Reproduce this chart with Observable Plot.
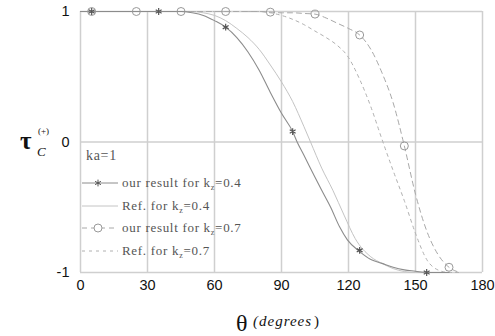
<!DOCTYPE html>
<html><head><meta charset="utf-8">
<script src="https://cdn.jsdelivr.net/npm/d3@7"></script>
<script src="https://cdn.jsdelivr.net/npm/@observablehq/plot@0.6"></script>
<style>body{margin:0;background:#fff}</style>
</head><body><div id="chart"></div>
<script>
// θ (degrees) and τ values
const ourTheta04 = [0,5,10,20,30,35,40,45,50,55,60,65,70,75,80,85,90,95,97,100,105,108,112,116,119.5,125,130,135,140,145,150,155,160,165];
const ourTau04   = [1,1,1,1,1,1,1,1,0.99,0.97,0.93,0.88,0.8,0.69,0.55,0.38,0.22,0.08,0,-0.1,-0.27,-0.37,-0.5,-0.65,-0.75,-0.84,-0.9,-0.93,-0.96,-0.98,-0.99,-1,-1,-1];
const refTheta04 = [0,10,20,30,40,50,55,60,65,70,75,80,85,90,95,100,103,108,113,118,123,130,135,140,150,160];
const refTau04   = [1,1,1,1,1,1,0.99,0.97,0.93,0.87,0.8,0.71,0.59,0.46,0.31,0.12,0,-0.2,-0.37,-0.56,-0.74,-0.88,-0.93,-0.97,-1,-1];
const ourTheta07 = [0,10,20,30,40,50,60,70,80,85,90,95,100,105,110,115,120,125,130,135,140,145,150,155,160,165,170];
const ourTau07   = [1,1,1,1,1,1,1,1,1,0.995,0.99,0.99,0.985,0.98,0.95,0.91,0.87,0.82,0.71,0.53,0.3,-0.03,-0.4,-0.68,-0.86,-0.96,-1];
const refTheta07 = [0,10,20,30,40,50,60,70,80,85,90,95,100,105,110,115,119.5,125,130,135,140,145,150,155,160,165,170];
const refTau07   = [1,1,1,1,1,1,1,1,1,0.99,0.97,0.94,0.9,0.85,0.8,0.74,0.66,0.48,0.27,0.02,-0.22,-0.45,-0.7,-0.9,-0.98,-1,-1];
const starTheta = [5,35,65,95,125,155];
const starTau   = [1,1,0.88,0.08,-0.83,-1];
const circTheta = [5,25,45,65,85,105,125,145,165];
const circTau   = [1,1,1,1,0.995,0.98,0.82,-0.03,-0.96];
const xTicks = [0,30,60,90,120,150,180];
const yTicks = [-1,0,1];

const zip = (a,b) => a.map((x,i)=>({x, y:b[i]}));

const plot = Plot.plot({
  width: 495, height: 336,
  marginLeft: 80, marginRight: 13, marginTop: 11, marginBottom: 64,
  style: {fontFamily: "'Liberation Sans', Arial, sans-serif", fontSize: "14.5px", color: "#111", background: "#fff"},
  x: {domain: [0,180], ticks: xTicks, tickSize: 0, tickPadding: 7, label: null, tickFormat: d => String(d)},
  y: {domain: [-1,1], ticks: yTicks, tickSize: 0, tickPadding: 11, label: null, tickFormat: d => String(d)},
  marks: [
    Plot.ruleX(xTicks, {stroke: "#cfcfcf", strokeWidth: 1.5}),
    Plot.ruleY(yTicks, {stroke: "#cfcfcf", strokeWidth: 1.5}),
    Plot.line(zip(refTheta04, refTau04), {x:"x", y:"y", stroke:"#c4c4c4", strokeWidth:1, curve:"monotone-x"}),
    Plot.line(zip(refTheta07, refTau07), {x:"x", y:"y", stroke:"#b0b0b0", strokeWidth:1, strokeDasharray:"3,4", curve:"monotone-x"}),
    Plot.line(zip(ourTheta07, ourTau07), {x:"x", y:"y", stroke:"#a8a8a8", strokeWidth:1, strokeDasharray:"5,4", curve:"monotone-x"}),
    Plot.line(zip(ourTheta04, ourTau04), {x:"x", y:"y", stroke:"#8c8c8c", strokeWidth:1.1, curve:"monotone-x"}),
    Plot.dot(zip(circTheta, circTau), {x:"x", y:"y", symbol:"circle", r:4, stroke:"#999", fill:"none", strokeWidth:1}),
    Plot.dot(zip(starTheta, starTau), {x:"x", y:"y", symbol:"asterisk", r:3.2, stroke:"#555", strokeWidth:1.2}),
  ]
});
document.getElementById("chart").appendChild(plot);

const svg = d3.select(plot);
const serif = "'Liberation Serif', 'Times New Roman', serif";
// legend
const lg = svg.append("g").attr("font-family", serif).attr("font-size", 13).attr("letter-spacing", 0.7).attr("fill", "#555").attr("text-anchor", "start");
lg.append("text").attr("x", 86).attr("y", 160).attr("font-size", 14).text("ka=1");
const rows = [
  {y:183, label:"our result for k", val:"=0.4", stroke:"#8c8c8c", dash:null, mark:"star"},
  {y:206, label:"Ref. for k", val:"=0.4", stroke:"#c4c4c4", dash:null, mark:null},
  {y:228, label:"our result for k", val:"=0.7", stroke:"#a8a8a8", dash:"5,4", mark:"circ"},
  {y:251, label:"Ref. for k", val:"=0.7", stroke:"#b0b0b0", dash:"3,4", mark:null},
];
rows.forEach(r => {
  const l = lg.append("line").attr("x1", 82).attr("x2", 118).attr("y1", r.y).attr("y2", r.y)
    .attr("stroke", r.stroke).attr("stroke-width", 1);
  if (r.dash) l.attr("stroke-dasharray", r.dash);
  if (r.mark === "circ") lg.append("circle").attr("cx", 98).attr("cy", r.y).attr("r", 4).attr("fill", "#fff").attr("stroke", "#999");
  if (r.mark === "star") lg.append("path").attr("d", d3.symbol(d3.symbolAsterisk, 32)()).attr("transform", `translate(98,${r.y})`).attr("stroke", "#555").attr("fill", "none");
  const t = lg.append("text").attr("x", 122).attr("y", r.y + 4);
  t.append("tspan").text(r.label);
  t.append("tspan").attr("font-size", 8).attr("dy", 3).text("z");
  t.append("tspan").attr("dy", -3).text(r.val);
});
// y axis label
const yl = svg.append("text").attr("font-family", serif).attr("fill", "#111").attr("text-anchor", "start");
yl.append("tspan").attr("x", 20).attr("y", 149).attr("font-size", 25).attr("font-weight", "bold").text("τ");
yl.append("tspan").attr("x", 37).attr("y", 156).attr("font-size", 13).attr("font-style", "italic").text("C");
svg.append("text").attr("font-family", serif).attr("text-anchor", "start").attr("x", 38).attr("y", 134).attr("font-size", 9).attr("fill", "#111").text("(+)");
// x axis label
const xl = svg.append("text").attr("font-family", serif).attr("fill", "#111").attr("text-anchor", "start").attr("y", 331);
xl.append("tspan").attr("x", 236).attr("font-size", 24).text("θ");
xl.append("tspan").attr("x", 253).attr("dy", -5).attr("font-size", 15).attr("letter-spacing", 1).attr("font-style", "italic").text("(degrees");
xl.append("tspan").attr("font-size", 15).attr("dx", 2).text(")");
</script></body></html>
